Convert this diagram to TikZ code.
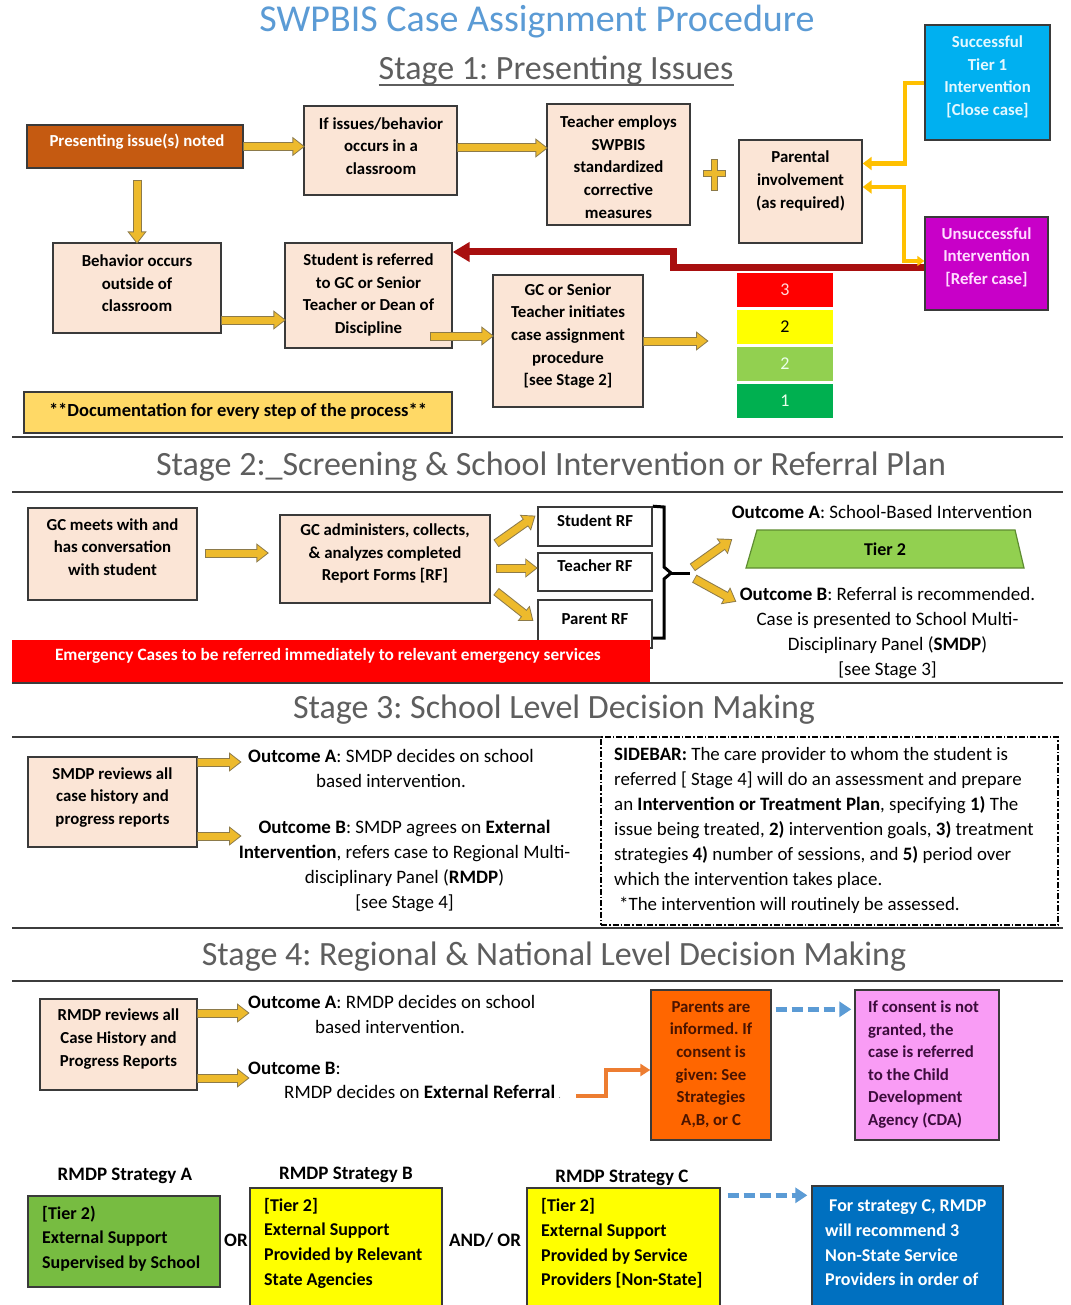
\documentclass[tikz,border=0pt]{standalone}
\usepackage{fontspec}
\setmainfont{Carlito}
\usetikzlibrary{arrows.meta,calc,fit}

\definecolor{peach}{HTML}{FBE5D6}
\definecolor{boxedge}{HTML}{3A3A3A}
\definecolor{gold}{HTML}{EDBA2C}
\definecolor{goldedge}{HTML}{8C7A4A}
\definecolor{amber}{HTML}{FFC000}
\definecolor{rust}{HTML}{C55A11}
\definecolor{skyfill}{HTML}{00B0F0}
\definecolor{succtext}{HTML}{E4F8FF}
\definecolor{plum}{HTML}{C800C8}
\definecolor{failtext}{HTML}{FFDDFF}
\definecolor{maroon}{HTML}{A80F0F}
\definecolor{titleblue}{HTML}{5B9BD5}
\definecolor{stagegray}{HTML}{5E5E5E}
\definecolor{rulegray}{HTML}{3C3C3C}
\definecolor{docgold}{HTML}{FFD966}
\definecolor{tierred}{HTML}{FF0000}
\definecolor{tieryellow}{HTML}{FFFF00}
\definecolor{tierlime}{HTML}{92D050}
\definecolor{tiergreen}{HTML}{00B050}
\definecolor{trapedge}{HTML}{5E8C31}
\definecolor{alarm}{HTML}{FF0000}
\definecolor{tangerine}{HTML}{FF6600}
\definecolor{darkbrown}{HTML}{4A1400}
\definecolor{orchid}{HTML}{F99CF5}
\definecolor{darkplum}{HTML}{3C0C3C}
\definecolor{leaf}{HTML}{77BC41}
\definecolor{royal}{HTML}{0070C0}
\definecolor{dashblue}{HTML}{5B9BD5}
\definecolor{stepor}{HTML}{ED7D31}

\newcommand\fsz[2]{\fontsize{#1}{#2}\selectfont}

\begin{document}
\frenchspacing
\begin{tikzpicture}[x=1pt,y=-1pt,
  box/.style={draw=boxedge, line width=1.4pt, inner sep=0pt},
  pbox/.style={box, fill=peach},
  btxt/.style={inner sep=0pt, align=center, font=\fsz{16.8}{22.6}\bfseries},
  otxt/.style={inner sep=0pt, align=center, font=\fsz{19}{25}},
  stxt/.style={inner sep=0pt, align=left, anchor=west, font=\fsz{18}{24.7}\bfseries},
  lbl/.style={inner sep=0pt, font=\fsz{19}{22}\bfseries},
  stage/.style={inner sep=0pt, text=stagegray, font=\fsz{34}{40}},
  tier/.style={inner sep=0pt, font=\fsz{18}{20}},
  rfbox/.style={box, fill=white, line width=1.6pt, font=\fsz{16.8}{20}\bfseries},
  rule/.style={draw=rulegray, line width=2pt},
  garrow/.style={draw=gold, line width=7pt, -{Triangle[length=10pt,width=15pt]},
    preaction={draw=goldedge, line width=9pt, -{Triangle[length=12.5pt,width=18.5pt]},
      shorten >=-1.6pt, shorten <=-0.8pt}},
  amberline/.style={draw=amber, line width=4.5pt, line join=miter, -{Triangle[length=9pt,width=13pt]}},
  redline/.style={draw=maroon, line width=7pt, line join=miter, -{Triangle[length=17pt,width=19pt]}},
  bluedash/.style={draw=dashblue, line width=4.5pt, dash pattern=on 11pt off 5pt, -{Triangle[length=12pt,width=15pt]}},
  stepline/.style={draw=stepor, line width=4pt, line join=miter, -{Triangle[length=10pt,width=12pt]}},
  brace/.style={draw=black, line width=3pt, line join=miter},
  plusmark/.style={fill=gold, draw=goldedge, line width=1pt}
]
\useasboundingbox (0,0) rectangle (1070,1305);
\clip (0,0) rectangle (1070,1305);
\fill[white] (0,0) rectangle (1070,1305);

% ---------- title ----------
\node[inner sep=0pt, text=titleblue, font=\fsz{38}{42}] (ttl) at (537,22) {SWPBIS Case Assignment Procedure};

% ---------- stage 1 ----------
\node[stage] (s1t) at (556,71) {Stage 1: Presenting Issues};
\draw[stagegray, line width=1.8pt] ($(s1t.base west)+(0,5)$) -- ($(s1t.base east)+(0,5)$);

\node[box, fill=rust, fit={(27,125) (243,168)}] (pres) {};
\node[btxt, text=white] (pres-t) at (137,142) {Presenting issue(s) noted};

\node[pbox, fit={(304,106) (457,195)}] (iss) {};
\node[btxt] (iss-t) at (381,146) {If issues/behavior\\occurs in a\\classroom};

\node[pbox, fit={(547,104) (690,225)}] (tch) {};
\node[btxt] (tch-t) at (618.5,167) {Teacher employs\\SWPBIS\\standardized\\corrective\\measures};

\draw[plusmark] (711,160) -- (717,160) -- (717,171) -- (725,171) -- (725,177) -- (717,177)
  -- (717,191) -- (711,191) -- (711,177) -- (703,177) -- (703,171) -- (711,171) -- cycle;

\node[pbox, fit={(739,140) (862,243)}] (par) {};
\node[btxt] (par-t) at (800.5,181) {Parental\\involvement\\(as required)};

\node[box, fill=skyfill, fit={(925,25) (1050,140)}] (succ) {};
\node[btxt, text=succtext] (succ-t) at (987.5,77) {Successful\\Tier 1\\Intervention\\{[Close case]}};

\node[box, fill=plum, fit={(925,217) (1048,310)}] (fail) {};
\node[btxt, text=failtext] (fail-t) at (986.5,257) {Unsuccessful\\Intervention\\{[Refer case]}};

\node[pbox, fit={(53,243) (221,333)}] (beh) {};
\node[btxt] (beh-t) at (137,283.5) {Behavior occurs\\outside of\\classroom};

\node[pbox, fit={(285,243) (452,348)}] (stu) {};
\node[btxt] (stu-t) at (368.5,295) {Student is referred\\to GC or Senior\\Teacher or Dean of\\Discipline};

\node[pbox, fit={(493,275) (643,407)}] (gci) {};
\node[btxt] (gci-t) at (568,336) {GC or Senior\\Teacher initiates\\case assignment\\procedure\\{[see Stage 2]}};

\node[fill=tierred, inner sep=0pt, fit={(737,273) (833,307)}] (t3) {};
\node[tier, text=red!15] (t3-t) at (t3) {3};
\node[fill=tieryellow, inner sep=0pt, fit={(737,310) (833,344)}] (t2a) {};
\node[tier, text=black] (t2a-t) at (t2a) {2};
\node[fill=tierlime, inner sep=0pt, fit={(737,347) (833,381)}] (t2b) {};
\node[tier, text=green!8] (t2b-t) at (t2b) {2};
\node[fill=tiergreen, inner sep=0pt, fit={(737,384) (833,418)}] (t1) {};
\node[tier, text=green!8] (t1-t) at (t1) {1};

\node[box, fill=docgold, fit={(24,392) (452,433)}] (doc) {};
\node[btxt, font=\fsz{18.5}{22}\bfseries] (doc-t) at (238,411) {**Documentation for every step of the process**};

% stage 1 connectors
\draw[garrow] (pres.east) -- (iss.west |- pres.east);
\draw[garrow] (iss.east |- 0,148) -- (tch.west |- 0,148);
\draw[garrow] ($(pres.south)+(2,12)$) -- ($(beh.north)+(0,0)$);
\draw[garrow] (beh.east |- 0,320) -- (stu.west |- 0,320);
\draw[garrow] ($(stu.east |- 0,336)+(-22,0)$) -- (gci.west |- 0,336);
\coordinate (tin) at (707,341);
\draw[garrow] (gci.east |- tin) -- (tin);

\draw[redline] ($(fail.west)+(0,4.5)$) -- (673,268) -- (673,252) -- (stu.east |- 0,252);
\draw[amberline] (succ.west |- 0,83) -- (905,83) -- (905,163.5) -- (par.east |- 0,163.5);
\draw[amberline, {Triangle[length=7pt,width=10pt]}-{Triangle[length=9pt,width=13pt]}]
  (fail.west |- 0,261) -- (904,261) -- (904,187) -- (par.east |- 0,187);

\draw[rule] (12,437) -- (1063,437);

% ---------- stage 2 ----------
\node[stage] (s2t) at (551,467) {Stage 2:\_Screening \& School Intervention or Referral Plan};
\draw[rule] (12,492) -- (1063,492);

\node[pbox, fit={(28,508) (197,600)}] (gcm) {};
\node[btxt] (gcm-t) at (112.5,547) {GC meets with and\\has conversation\\with student};

\node[pbox, fit={(280,515) (490,603)}] (gca) {};
\node[btxt] (gca-t) at (385,553.5) {GC administers, collects,\\\& analyzes completed\\Report Forms [RF]};

\draw[garrow] ($(gcm.east)+(8,-1)$) -- ($(gca.west |- gcm.east)+(-12,-1)$);

\node[rfbox, fit={(538,507) (652,546)}] (srf) {Student RF};
\node[rfbox, fit={(538,553) (652,591)}] (trf) {Teacher RF};
\node[rfbox, fit={(538,600) (652,648)}] (prf) {};
\node[btxt] (prf-t) at (595,619) {Parent RF};

\draw[garrow] ($(gca.east)+(6,-16)$) -- ($(srf.west)+(-3,-10)$);
\draw[garrow] ($(gca.east)+(6,9)$) -- ($(trf.west)+(-1,-4)$);
\draw[garrow] ($(gca.east)+(6,33)$) -- ($(prf.west)+(-5,-4)$);

\coordinate (brk) at (671,573);
\draw[brace] (srf.north east) -- (664,507) -- (664,567) -- (brk) -- (664,579) -- (664,638) -- (prf.east |- 0,638);
\draw[brace] (brk) -- (690,573);

\coordinate (toA) at (731,540);
\coordinate (toB) at (735,601);
\draw[garrow] ($(brk)+(22,-6)$) -- (toA);
\draw[garrow] ($(brk)+(24,6)$) -- (toB);

\node[otxt] (oA2) at (882,512) {\textbf{Outcome A}: School-Based Intervention};
\draw[fill=tierlime, draw=trapedge, line width=1.2pt] (757,530) -- (1015,530) -- (1024,568) -- (746,568) -- cycle;
\node[otxt, font=\fsz{18}{22}\bfseries] (tier2) at (885,549) {Tier 2};
\node[otxt] (oB2) at (887.5,633) {\textbf{Outcome B}: Referral is recommended.\\Case is presented to School Multi-\\Disciplinary Panel (\textbf{SMDP})\\{[see Stage 3]}};

\node[fill=alarm, inner sep=0pt, fit={(12,640) (650,682)}] (emg) {};
\node[btxt, text=white, font=\fsz{17.3}{20}\bfseries] (emg-t) at (328,656) {Emergency Cases to be referred immediately to relevant emergency services};

\draw[rule] (12,683) -- (1063,683);

% ---------- stage 3 ----------
\node[stage] (s3t) at (554,710) {Stage 3: School Level Decision Making};
\draw[rule] (12,737) -- (601,737);

\node[pbox, fit={(28,757) (197,847)}] (smdp) {};
\node[btxt] (smdp-t) at (112.5,797.5) {SMDP reviews all\\case history and\\progress reports};

\coordinate (a3a) at (240,762);
\coordinate (a3b) at (240,836);
\draw[garrow] (smdp.east |- a3a) -- (a3a);
\draw[garrow] (smdp.east |- a3b) -- (a3b);

\node[otxt] (oA3) at (391,768.5) {\textbf{Outcome A}: SMDP decides on school\\based intervention.};
\node[otxt] (oB3) at (404.5,865.5) {\textbf{Outcome B}: SMDP agrees on \textbf{External}\\\textbf{Intervention}, refers case to Regional Multi-\\disciplinary Panel (\textbf{RMDP})\\{[see Stage 4]}};

\node[draw=black, line width=1.4pt, dash pattern=on 6pt off 2pt on 1.5pt off 2pt, inner sep=0pt,
  fit={(601,737) (1058,925)}] (side) {};
\node[inner sep=0pt, align=left, anchor=west, font=\fsz{18.9}{24.9}] (side-t) at (614,830.5)
  {\textbf{SIDEBAR:} The care provider to whom the student is\\
   referred [ Stage 4] will do an assessment and prepare\\
   an \textbf{Intervention or Treatment Plan}, specifying \textbf{1)} The\\
   issue being treated, \textbf{2)} intervention goals, \textbf{3)} treatment\\
   strategies \textbf{4)} number of sessions, and \textbf{5)} period over\\
   which the intervention takes place.\\
   \hspace*{5pt}*The intervention will routinely be assessed.};

\draw[rule] (12,928) -- (1063,928);

% ---------- stage 4 ----------
\node[stage] (s4t) at (554,957) {Stage 4: Regional \& National Level Decision Making};
\draw[rule] (12,981) -- (1063,981);

\node[pbox, fit={(40,999) (197,1090)}] (rmdp) {};
\node[btxt] (rmdp-t) at (118.5,1039) {RMDP reviews all\\Case History and\\Progress Reports};

\coordinate (a4a) at (248,1013);
\coordinate (a4b) at (248,1078);
\draw[garrow] (rmdp.east |- a4a) -- (a4a);
\draw[garrow] (rmdp.east |- a4b) -- (a4b);

\node[otxt, anchor=west] (oA4) at (248,1002) {\textbf{Outcome A}: RMDP decides on school};
\node[otxt] (oA4b) at (390,1027) {based intervention.};
\node[otxt, anchor=west] (oB4) at (248,1068) {\textbf{Outcome B}:};
\node[otxt, anchor=west] (oB4b) at (284,1092) {RMDP decides on \textbf{External Referral}\hspace{3pt}{\color{gray}\fsz{10}{12}.}};

\node[box, fill=tangerine, fit={(651,990) (771,1140)}] (obox) {};
\node[btxt, text=darkbrown] (obox-t) at (711,1064.5) {Parents are\\informed. If\\consent is\\given: See\\Strategies\\A,B, or C};

\coordinate (ext) at (576,1096);
\draw[stepline] (ext) -- (606,1096) -- (606,1070) -- (obox.west |- 0,1070);

\node[box, fill=orchid, fit={(855,990) (999,1140)}] (pink) {};
\node[btxt, align=left, anchor=west, text=darkplum] (pink-t) at (868,1064.5) {If consent is not\\granted, the\\case is referred\\to the Child\\Development\\Agency (CDA)};

\draw[bluedash] ($(obox.north east)+(4,20)$) -- ($(pink.north west)+(-3,20)$);

\node[lbl] (sa) at (125,1176) {RMDP Strategy A};
\node[lbl] (sb) at (346,1175) {RMDP Strategy B};
\node[lbl] (sc) at (622,1178) {RMDP Strategy C};

\node[box, fill=leaf, fit={(28,1196) (220,1287)}] (stA) {};
\node[stxt] (stA-t) at (42,1238.5) {{[Tier 2)}\\External Support\\Supervised by School};
\node[lbl] (or1) at (236,1240) {OR};

\node[box, fill=tieryellow, fit={(250,1188) (442,1320)}] (stB) {};
\node[stxt] (stB-t) at (264,1243) {{[Tier 2]}\\External Support\\Provided by Relevant\\State Agencies};
\node[lbl] (andor) at (485,1240) {AND/ OR};

\node[box, fill=tieryellow, fit={(527,1188) (720,1320)}] (stC) {};
\node[stxt] (stC-t) at (541,1243.5) {{[Tier 2]}\\External Support\\Provided by Service\\Providers [Non-State]};

\node[box, fill=royal, fit={(812,1186) (1003,1320)}] (blu) {};
\node[stxt, text=white] (blu-t) at (825,1243) {\hspace*{4pt}For strategy C, RMDP\\will recommend 3\\Non-State Service\\Providers in order of};

\draw[bluedash] ($(stC.north east)+(7,8)$) -- ($(blu.north west)+(-4,10)$);

\end{tikzpicture}
\end{document}
